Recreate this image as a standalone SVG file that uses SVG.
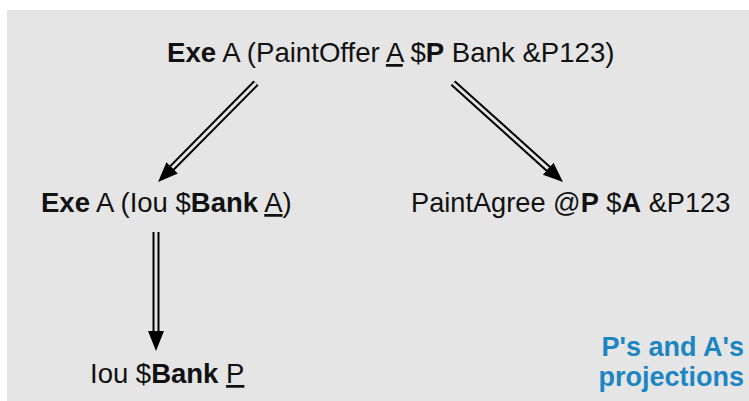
<svg xmlns="http://www.w3.org/2000/svg" width="749" height="401" viewBox="0 0 749 401">
<style>
.t{font-family:"Liberation Sans",Arial,sans-serif;font-size:27.5px;fill:#111}
.b{font-weight:bold}
.u{text-decoration:underline}
.note{font-family:"Liberation Sans",Arial,sans-serif;font-size:27px;font-weight:bold;fill:#1b86c2;text-anchor:end}
.outer{stroke:#000;stroke-width:7;fill:none}
.inner{stroke:#e5e5e5;stroke-width:3;fill:none}
</style>
<defs>
<marker id="head" markerUnits="userSpaceOnUse" markerWidth="20" markerHeight="16" viewBox="0 0 20 16" refX="4" refY="8" orient="auto">
<path d="M0,0 L20,8 L0,16 z" fill="#000"/>
</marker>
</defs>
<rect x="7" y="10" width="742" height="391" fill="#e5e5e5"/>
<g id="connectors">
<line class="outer" x1="256" y1="83" x2="169.3" y2="170.6" marker-end="url(#head)"/>
<line class="inner" x1="256" y1="83" x2="172.1" y2="167.8"/>
<line class="outer" x1="453" y1="83" x2="551.1" y2="171.3" marker-end="url(#head)"/>
<line class="inner" x1="453" y1="83" x2="548.1" y2="168.6"/>
<line class="outer" x1="156" y1="232" x2="156" y2="335" marker-end="url(#head)"/>
<line class="inner" x1="156" y1="232" x2="156" y2="331"/>
</g>
<g id="top">
<text class="t" x="167" y="62" style="font-size:27.6px"><tspan class="b">Exe</tspan> A (PaintOffer <tspan class="u">A</tspan> $<tspan class="b">P</tspan> Bank &amp;P123)</text>
</g>
<g id="left">
<text class="t" x="41" y="212"><tspan class="b">Exe</tspan> A (Iou $<tspan class="b">Bank</tspan> <tspan class="u">A</tspan>)</text>
</g>
<g id="right">
<text class="t" x="411" y="212" style="font-size:27.2px">PaintAgree @<tspan class="b">P</tspan> $<tspan class="b">A</tspan> &amp;P123</text>
</g>
<g id="bottom">
<text class="t" x="90" y="383">Iou $<tspan class="b">Bank</tspan> <tspan class="u">P</tspan></text>
</g>
<g id="note">
<text class="note" x="744" y="356">P's and A's</text>
<text class="note" x="744" y="386">projections</text>
</g>
</svg>
